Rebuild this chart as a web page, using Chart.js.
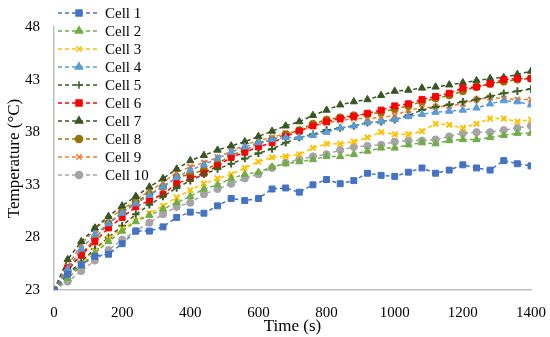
<!DOCTYPE html>
<html lang="en">
<head>
  <meta charset="UTF-8">
  <title>Cell Temperature vs Time</title>
  <script src="https://cdn.jsdelivr.net/npm/chart.js"></script>
  <style>
    body { margin: 0; background: #fff; }
    #wrap { width: 550px; height: 337px; }
  </style>
</head>
<body>
  <div id="wrap"><canvas id="tempChart"></canvas></div>

  <script>
    // time axis (s)
    const times = [0, 40, 80, 120, 160, 200, 240, 280, 320, 360, 400, 440, 480, 520, 560, 600, 640, 680,
      720, 760, 800, 840, 880, 920, 960, 1000, 1040, 1080, 1120, 1160, 1200, 1240, 1280, 1320, 1360, 1400];

    const cellNames = ['Cell 1', 'Cell 2', 'Cell 3', 'Cell 4', 'Cell 5', 'Cell 6', 'Cell 7', 'Cell 8', 'Cell 9', 'Cell 10'];

    // temperatures (°C)
    const cell1 = [23, 24.5, 25.4, 26.2, 26.4, 27.4, 28.6, 28.6, 29.0, 29.9, 30.4, 30.3, 31.0, 31.7, 31.5, 31.7, 32.6, 32.7,
      32.3, 33.0, 33.5, 33.1, 33.4, 34.1, 33.9, 33.8, 34.2, 34.6, 34.1, 34.4, 34.9, 34.6, 34.4, 35.3, 35.0, 34.8];
    const cell2 = [23, 24.1, 25.3, 26.5, 27.6, 28.6, 29.5, 30.1, 30.7, 31.3, 31.9, 32.6, 33.0, 33.6, 34.0, 34.2, 34.7, 35.0,
      35.2, 35.4, 35.7, 35.7, 35.9, 36.2, 36.5, 36.5, 36.8, 37.0, 36.9, 37.2, 37.3, 37.3, 37.5, 37.7, 37.9, 37.9];
    const cell3 = [23, 24.2, 25.5, 26.7, 27.9, 28.8, 29.6, 30.3, 31.0, 31.8, 32.5, 33.1, 33.6, 34.0, 34.6, 35.2, 35.6, 35.7,
      35.9, 36.5, 36.9, 36.9, 37.1, 37.5, 38.0, 37.8, 37.8, 38.1, 38.8, 38.7, 38.4, 38.8, 39.3, 39.3, 39.0, 39.2];
    const cell4 = [23, 25.0, 26.9, 28.3, 29.3, 30.3, 31.2, 32.0, 32.8, 33.7, 34.4, 34.9, 35.5, 36.1, 36.6, 37.0, 37.3, 37.5,
      37.5, 37.7, 38.0, 38.4, 38.6, 38.9, 39.0, 39.2, 39.5, 39.7, 39.9, 40.0, 40.1, 40.3, 40.7, 41.0, 40.9, 40.6];
    const cell5 = [23, 24.5, 25.7, 26.9, 28.0, 29.1, 30.2, 31.1, 31.9, 32.7, 33.4, 34.0, 34.5, 35.0, 35.5, 36.0, 36.4, 37.0,
      37.5, 37.8, 38.2, 38.4, 38.6, 38.9, 39.0, 39.2, 39.6, 40.1, 40.4, 40.6, 40.9, 41.1, 41.4, 41.7, 41.9, 42.1];
    const cell6 = [23, 25.1, 26.3, 27.6, 28.9, 29.9, 30.9, 31.5, 32.1, 33.1, 33.6, 34.1, 34.8, 35.6, 36.1, 36.6, 37.0, 37.6,
      38.1, 38.6, 39.0, 39.3, 39.5, 39.8, 40.1, 40.5, 40.7, 41.1, 41.4, 41.7, 42.2, 42.3, 42.6, 43.0, 43.1, 43.1];
    const cell7 = [23, 25.9, 27.6, 28.9, 30.0, 31.0, 31.9, 32.8, 33.6, 34.5, 35.3, 35.8, 36.3, 36.7, 37.1, 37.6, 38.1, 38.6,
      39.0, 39.6, 40.1, 40.6, 40.9, 41.1, 41.5, 41.9, 42.0, 42.2, 42.3, 42.5, 42.7, 42.9, 43.1, 43.2, 43.5, 43.8];
    const cell8 = [23, 24.8, 26.4, 27.9, 29.3, 30.4, 31.4, 32.1, 32.8, 33.7, 34.0, 34.4, 35.0, 35.8, 36.3, 36.9, 37.3, 37.8,
      38.2, 38.8, 39.2, 39.4, 39.6, 39.7, 39.9, 40.2, 40.5, 40.9, 41.2, 41.5, 41.9, 42.3, 42.6, 42.8, 43.0, 43.1];
    const cell9 = [23, 25.3, 27.3, 28.8, 29.8, 30.6, 31.6, 32.4, 33.2, 34.2, 34.7, 35.1, 35.6, 36.2, 36.8, 37.2, 37.5, 37.9,
      38.1, 38.6, 38.9, 39.1, 39.3, 39.3, 39.4, 39.6, 40.1, 40.3, 40.4, 40.5, 40.7, 41.1, 41.3, 41.2, 41.1, 41.1];
    const cell10 = [23, 23.8, 24.8, 25.8, 26.8, 27.8, 28.6, 29.4, 30.2, 30.9, 31.3, 32.1, 32.6, 33.1, 33.6, 34.0, 34.6, 35.1,
      35.4, 35.7, 35.9, 36.3, 36.6, 36.7, 36.8, 37.1, 37.2, 37.2, 37.3, 37.6, 37.9, 38.0, 38.0, 38.2, 38.4, 38.6];

    const yTicks = [23, 28, 33, 38, 43, 48];
    const xTicks = [0, 200, 400, 600, 800, 1000, 1200, 1400];

    const allValues = [cell1, cell2, cell3, cell4, cell5, cell6, cell7, cell8, cell9, cell10];
    const colors = ['#4472C4', '#70AD47', '#FFC000', '#5B9BD5', '#3A5F22', '#FF0000', '#375623', '#997300', '#ED7D31', '#A5A5A5'];
    const markers = ['rect', 'triangle', 'crossRot', 'triangle', 'cross', 'rect', 'triangle', 'circle', 'crossRot', 'circle'];
    const radii = [4.2, 4.2, 3.8, 4.2, 3.8, 4.2, 4.2, 3.6, 3.8, 3.6];

    const serif = '"Liberation Serif", "Times New Roman", serif';

    const datasets = cellNames.map((name, i) => ({
      label: name,
      data: times.map((t, j) => ({ x: t, y: allValues[i][j] })),
      borderColor: colors[i],
      backgroundColor: colors[i],
      borderWidth: 1.5,
      borderDash: [4, 3],
      pointStyle: markers[i],
      pointRadius: radii[i],
      pointBorderWidth: (markers[i] === 'cross' || markers[i] === 'crossRot') ? 2 : 1,
      pointBackgroundColor: colors[i],
      pointBorderColor: colors[i],
      tension: 0,
      fill: false
    }));

    // legend drawn as dashed line + marker, like the original
    const lineLegend = {
      id: 'lineLegend',
      afterDraw(chart) {
        const ctx = chart.ctx;
        const x0 = 58, x1 = 100, top = 13, step = 18;
        ctx.save();
        chart.data.datasets.forEach((ds, i) => {
          const y = top + i * step;
          ctx.strokeStyle = ds.borderColor;
          ctx.lineWidth = 1.5;
          ctx.setLineDash([4, 3]);
          ctx.beginPath();
          ctx.moveTo(x0, y);
          ctx.lineTo(x1, y);
          ctx.stroke();
          ctx.setLineDash([]);
          ctx.fillStyle = ds.backgroundColor;
          Chart.helpers.drawPoint(ctx, {
            pointStyle: ds.pointStyle,
            radius: ds.pointRadius,
            borderWidth: ds.pointBorderWidth,
            rotation: 0
          }, (x0 + x1) / 2, y);
          ctx.fillStyle = '#000';
          ctx.font = '15px ' + serif;
          ctx.textAlign = 'left';
          ctx.textBaseline = 'middle';
          ctx.fillText(ds.label, 105, y + 1);
        });
        ctx.restore();
      }
    };

    new Chart(document.getElementById('tempChart'), {
      type: 'line',
      data: { datasets: datasets },
      options: {
        responsive: true,
        maintainAspectRatio: false,
        animation: false,
        layout: { padding: { top: 27, right: 19, left: 0, bottom: 0 } },
        plugins: {
          legend: { display: false },
          tooltip: { enabled: false }
        },
        scales: {
          x: {
            type: 'linear',
            min: 0,
            max: 1400,
            afterBuildTicks: axis => { axis.ticks = xTicks.map(v => ({ value: v })); },
            afterFit: axis => { axis.height = 47; axis.paddingLeft = 0; axis.paddingRight = 0; },
            grid: { drawOnChartArea: false, drawTicks: false },
            border: { color: '#BFBFBF', width: 1.5 },
            ticks: { color: '#000', padding: 14, maxRotation: 0, callback: v => String(v), font: { family: serif, size: 15 } },
            title: { display: true, text: 'Time (s)', color: '#000', padding: { top: 0, bottom: 0 }, font: { family: serif, size: 17 } }
          },
          y: {
            min: 23,
            max: 48,
            afterBuildTicks: axis => { axis.ticks = yTicks.map(v => ({ value: v })); },
            afterFit: axis => { axis.width = 54; axis.paddingTop = 0; axis.paddingBottom = 0; },
            grid: { drawOnChartArea: false, drawTicks: false },
            border: { color: '#BFBFBF', width: 1.5 },
            ticks: { color: '#000', padding: 14, font: { family: serif, size: 15 } },
            title: { display: true, text: 'Temperature (°C)', color: '#000', padding: { top: 4, bottom: 0 }, font: { family: serif, size: 17 } }
          }
        }
      },
      plugins: [lineLegend]
    });
  </script>
</body>
</html>
